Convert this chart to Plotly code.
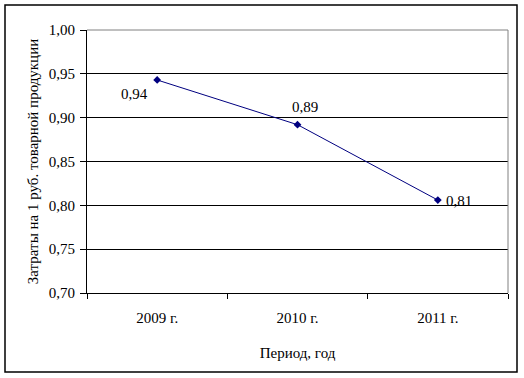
import plotly.graph_objects as go

categories = ["2009 г.", "2010 г.", "2011 г."]
values = [0.943, 0.892, 0.806]
labels = ["0,94", "0,89", "0,81"]
label_dx = [-23, 7, 21]
label_dy = [-14, 18, -1]
y_ticks = [0.70, 0.75, 0.80, 0.85, 0.90, 0.95, 1.00]

W, H = 524, 378
L, R, T, B = 87, 16, 30, 85
pw, ph = W - L - R, H - T - B

fig = go.Figure()
fig.add_trace(go.Scatter(
    x=categories, y=values, mode="lines+markers",
    line=dict(color="#000080", width=1),
    marker=dict(symbol="diamond", size=6, color="#000080"),
    cliponaxis=False, showlegend=False, hoverinfo="skip",
))

for c, v, t, dx, dy in zip(categories, values, labels, label_dx, label_dy):
    fig.add_annotation(x=c, y=v, text=t, showarrow=False, xshift=dx, yshift=dy,
                       font=dict(family="Liberation Serif", size=15, color="black"))

def px_x(p):
    return (p - L) / pw

def px_y(p):
    return (H - B - p) / ph

fig.update_layout(
    width=W, height=H,
    margin=dict(l=L, r=R, t=T, b=B),
    paper_bgcolor="white", plot_bgcolor="white",
    separators=", ",
    font=dict(family="Liberation Serif", size=15, color="black"),
    xaxis=dict(
        type="category", range=[-0.5, 2.5],
        showline=True, linecolor="black", linewidth=1,
        ticks="outside", ticklen=5, tickcolor="black", tickson="boundaries",
        ticklabelstandoff=11,
        showgrid=False,
        title=dict(text="Период, год", font=dict(size=15), standoff=22),
    ),
    yaxis=dict(
        range=[0.70, 1.00], tickvals=y_ticks, tickformat=".2f",
        showline=True, linecolor="black", linewidth=1,
        ticks="outside", ticklen=6, tickcolor="black",
        ticklabelstandoff=2,
        showgrid=True, gridcolor="black", gridwidth=1,
        zeroline=False,
        title=dict(text="Затраты на 1 руб. товарной продукции", font=dict(size=15), standoff=6),
    ),
    shapes=[
        dict(type="line", xref="paper", yref="paper", x0=0, x1=1, y0=1, y1=1,
             line=dict(color="#808080", width=1)),
        dict(type="line", xref="paper", yref="paper", x0=1, x1=1, y0=0, y1=1,
             line=dict(color="#808080", width=1)),
        dict(type="rect", xref="paper", yref="paper",
             x0=px_x(5), x1=px_x(517), y0=px_y(372), y1=px_y(5),
             line=dict(color="black", width=1.5), fillcolor="rgba(0,0,0,0)", layer="below"),
    ],
)

fig.write_html("out.html", config={"displayModeBar": False},
               post_script="document.body.style.margin='0';document.body.style.overflow='hidden';")
